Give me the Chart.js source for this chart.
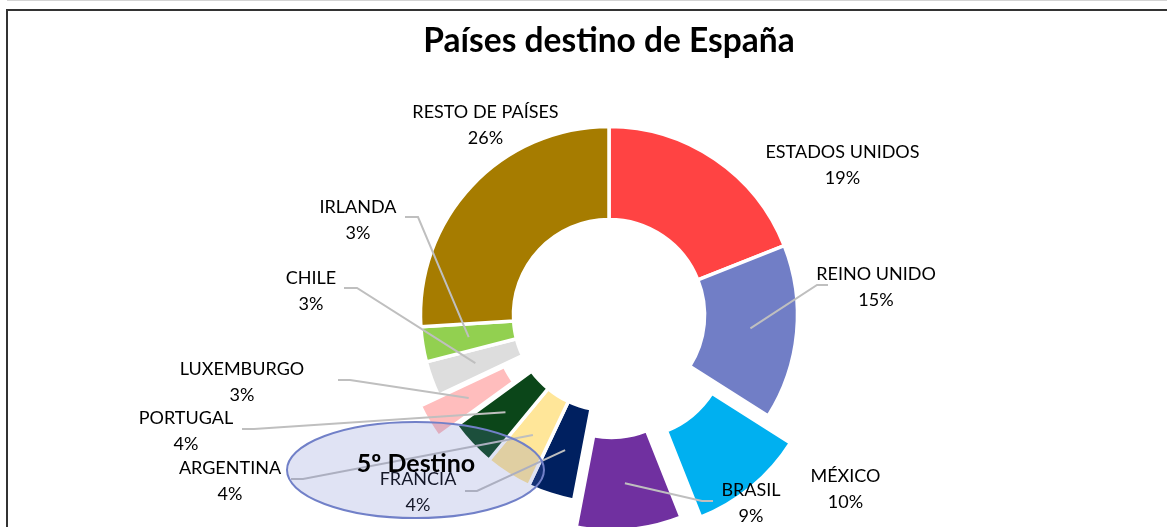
<!DOCTYPE html>
<html>
<head>
<meta charset="utf-8">
<script src="https://cdn.jsdelivr.net/npm/chart.js@4.4.1/dist/chart.umd.min.js"></script>
<style>
  html, body { margin: 0; padding: 0; background: #fff; overflow: hidden; }
  body { width: 1167px; height: 527px; position: relative; }
  .linea-sup { position: absolute; left: 7px; top: 0; right: 0; height: 1px; background: #d4d4d4; }
  .marco { position: absolute; left: 6px; top: 9px; width: 1300px; height: 700px; border-left: 2px solid #333; border-top: 2px solid #333; }
  .grafico { position: absolute; left: 0; top: 0; width: 1167px; height: 527px; }
</style>
</head>
<body>
<div class="linea-sup"></div>
<div class="marco"></div>
<div class="grafico"><canvas id="chart"></canvas></div>
<script>
// Datos
const paises = ['ESTADOS UNIDOS', 'REINO UNIDO', 'MÉXICO', 'BRASIL', 'FRANCIA', 'ARGENTINA',
                'PORTUGAL', 'LUXEMBURGO', 'CHILE', 'IRLANDA', 'RESTO DE PAÍSES'];
const cuotas = [19, 15, 10, 9, 4, 4, 4, 3, 3, 3, 26];

// Estilo
const colores = ['#FF4343', '#717EC6', '#00B0F0', '#7030A0', '#002060', '#FFE699',
                 '#0B4619', '#FFBDBD', '#DDDDDD', '#92D050', '#A67C00'];
const separacion = [0, 0, 35, 27, 0, 0, 0, 21, 0, 0, 0];   // px que se separa cada porción

// Posición de las etiquetas respecto al centro, y codo/fin de la línea guía
const etiquetas = [
  { dx: 233.5, dy: -164 },
  { dx: 267,   dy: -41.5, codo: [208, -30],  fin: [219, -30] },
  { dx: 236.5, dy: 160 },
  { dx: 142,   dy: 174.5, codo: [93, 186],   fin: [104, 186] },
  { dx: -191,  dy: 163.3, codo: [-132, 176], fin: [-144, 176] },
  { dx: -379,  dy: 151.7, codo: [-306, 164], fin: [-318, 164] },
  { dx: -423,  dy: 102.3, codo: [-355, 114], fin: [-367, 114] },
  { dx: -367,  dy: 52.7,  codo: [-259, 65],  fin: [-271, 65] },
  { dx: -298,  dy: -38.3, codo: [-252, -27], fin: [-265, -27] },
  { dx: -251,  dy: -109.2, codo: [-191, -98], fin: [-204, -98] },
  { dx: -123.5, dy: -203.5 }
];

// Elipse "5º Destino"
const nota = { texto: '5º Destino', dx: -193.5, dy: 155, rx: 128.5, ry: 48 };

function centro(chart) {
  const a = chart.chartArea;
  return { cx: (a.left + a.right) / 2, cy: (a.top + a.bottom) / 2 };
}

// Separa las porciones desplazando el centro de cada arco
const explosion = {
  id: 'explosion',
  beforeDatasetsDraw(chart) {
    const { cx, cy } = centro(chart);
    chart.getDatasetMeta(0).data.forEach((arc, i) => {
      const mid = (arc.startAngle + arc.endAngle) / 2;
      arc.x = cx + Math.cos(mid) * separacion[i];
      arc.y = cy + Math.sin(mid) * separacion[i];
    });
  }
};

// Etiquetas con líneas guía
const rotulos = {
  id: 'rotulos',
  afterDatasetsDraw(chart) {
    const ctx = chart.ctx;
    const { cx, cy } = centro(chart);
    const total = cuotas.reduce((s, v) => s + v, 0);
    ctx.save();
    chart.getDatasetMeta(0).data.forEach((arc, i) => {
      const e = etiquetas[i];
      if (e.codo) {
        const p = arc.getCenterPoint();
        ctx.beginPath();
        ctx.moveTo(p.x, p.y);
        ctx.lineTo(cx + e.codo[0], cy + e.codo[1]);
        ctx.lineTo(cx + e.fin[0], cy + e.fin[1]);
        ctx.strokeStyle = '#BFBFBF';
        ctx.lineWidth = 2;
        ctx.stroke();
      }
      ctx.fillStyle = '#000';
      ctx.font = '18px Lato';
      ctx.textAlign = 'center';
      ctx.textBaseline = 'middle';
      ctx.fillText(paises[i], cx + e.dx, cy + e.dy + 1);
      ctx.fillText(Math.round(cuotas[i] / total * 100) + '%', cx + e.dx, cy + e.dy + 27);
    });
    ctx.restore();
  },
  afterDraw(chart) {
    const ctx = chart.ctx;
    const { cx, cy } = centro(chart);
    ctx.save();
    ctx.beginPath();
    ctx.ellipse(cx + nota.dx, cy + nota.dy, nota.rx, nota.ry, 0, 0, Math.PI * 2);
    ctx.fillStyle = 'rgba(100,115,200,0.2)';
    ctx.fill();
    ctx.strokeStyle = '#7180C8';
    ctx.lineWidth = 2;
    ctx.stroke();
    ctx.fillStyle = '#000';
    ctx.font = 'bold 25px Lato';
    ctx.textAlign = 'center';
    ctx.textBaseline = 'middle';
    ctx.fillText(nota.texto, cx + nota.dx + 0.5, cy + nota.dy - 6);
    ctx.restore();
  }
};

new Chart(document.getElementById('chart'), {
  type: 'doughnut',
  data: {
    labels: paises,
    datasets: [{
      data: cuotas,
      backgroundColor: colores,
      borderColor: '#fff',
      borderWidth: 3.5,
      clip: false
    }]
  },
  options: {
    responsive: true,
    maintainAspectRatio: false,
    animation: false,
    radius: 188.5,
    cutout: '50.7%',
    layout: { padding: { left: 51, right: 0, top: 0, bottom: 0 } },
    plugins: {
      legend: { display: false },
      tooltip: { enabled: false },
      title: {
        display: true,
        text: 'Países destino de España',
        color: '#000',
        font: { family: 'Lato', size: 33.5, weight: 'bold' },
        padding: { top: 21, bottom: 41.8 }
      }
    }
  },
  plugins: [explosion, rotulos]
});
</script>
</body>
</html>
